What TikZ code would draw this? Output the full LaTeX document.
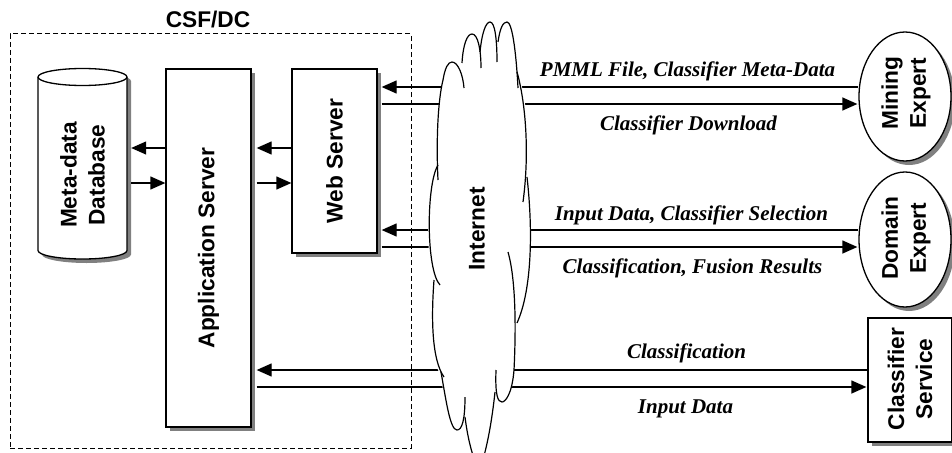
\documentclass[tikz,border=0pt]{standalone}
\usepackage{fontspec}
\setmainfont{Liberation Serif}
\setsansfont{Liberation Sans}
\usetikzlibrary{arrows.meta,shapes.geometric,shadows}
\begin{document}
\begin{tikzpicture}[x=1pt,y=-1pt,
  shd/.style={drop shadow={shadow xshift=4pt,shadow yshift=-4pt,opacity=1,fill=black!50}},
  box/.style={draw,line width=1.3pt,fill=white,shd,inner sep=0pt},
  btxt/.style={font=\fontsize{22.7}{28}\selectfont\sffamily\bfseries,align=center,rotate=90,inner sep=0pt},
  lbl/.style={font=\fontsize{21}{24}\selectfont\bfseries\itshape,anchor=base,inner sep=0pt},
  conn/.style={line width=1.3pt},
  arr/.style={conn,-{Triangle[length=15pt,width=13pt]}},
  lobe/.style={line width=1.2pt}
]
\path[use as bounding box,clip] (0,0) rectangle (952,452);

% CSF/DC dashed frame
\node[draw,dash pattern=on 5pt off 3pt,line width=1pt,minimum width=401,minimum height=414,inner sep=0pt] (csf) at (210.5,241) {};
\node[font=\fontsize{22.7}{28}\selectfont\sffamily\bfseries,anchor=base,inner sep=0pt] (csflbl) at (208,28) {CSF/DC};

% database cylinder
\node[minimum width=89,minimum height=191,inner sep=0pt] (db) at (82.5,163.5) {};
\path[shd,fill=white,draw,line width=1.3pt] (38,77) -- (38,250.5)
  arc[start angle=180,end angle=360,x radius=44.5pt,y radius=8.5pt] -- (127,77)
  arc[start angle=0,end angle=180,x radius=44.5pt,y radius=8.5pt] -- cycle;
\draw[line width=1.3pt] (38,77) arc[start angle=180,end angle=360,x radius=44.5pt,y radius=8.5pt];
\node[btxt] (dbtxt) at (82.5,175) {Meta-data\\Database};

% servers
\node[box,minimum width=85,minimum height=358] (app) at (208.5,248) {};
\node[btxt] (apptxt) at (app) {Application Server};
\node[box,minimum width=85,minimum height=184] (web) at (334.5,161) {};
\node[btxt] (webtxt) at (web) {Web Server};

% external actors
\node[box,ellipse,minimum width=92,minimum height=129] (me) at (905,96.5) {};
\node[btxt] (metxt) at (906,93) {Mining\\Expert};
\node[box,ellipse,minimum width=92,minimum height=135] (de) at (905,239.5) {};
\node[btxt] (detxt) at (906,238) {Domain\\Expert};
\node[box,minimum width=84,minimum height=124] (cs) at (910,380) {};
\node[btxt] (cstxt) at (910,379) {Classifier\\Service};

% shadow-edge coordinates
\coordinate (dbE) at ([xshift=4pt]db.east);
\coordinate (appE) at ([xshift=5pt]app.east);
\coordinate (webE) at ([xshift=4pt]web.east);

% connectors
\draw[arr] (app.west |- 0,148) -- (dbE |- 0,148);
\draw[arr] (dbE |- 0,183) -- (app.west |- 0,183);
\draw[arr] (web.west |- 0,148) -- (appE |- 0,148);
\draw[arr] (appE |- 0,183) -- (web.west |- 0,183);
\draw[arr] (me.west |- 0,87) -- (webE |- 0,87);
\draw[arr] (webE |- 0,104) -- ([xshift=-1pt]me.west |- 0,104);
\draw[arr] (de.west |- 0,230) -- (webE |- 0,230);
\draw[arr] (webE |- 0,247) -- ([xshift=-1pt]de.west |- 0,247);
\draw[arr] (cs.west |- 0,370) -- (appE |- 0,370);
\draw[arr] (appE |- 0,387) -- ([xshift=-1pt]cs.west |- 0,387);

% labels
\node[lbl] (l1) at (687.5,77) {PMML File, Classifier Meta-Data};
\node[lbl] (l2) at (688.5,130) {Classifier Download};
\node[lbl] (l3) at (691.5,220) {Input Data, Classifier Selection};
\node[lbl] (l4) at (692.5,273) {Classification, Fusion Results};
\node[lbl] (l5) at (686.5,358) {Classification};
\node[lbl] (l6) at (685.5,413) {Input Data};

% Internet cloud
\fill[white] plot coordinates {(442,87) (444,75) (447,66) (452,62) (457,64) (461,68) (463,50) (467,38) (472,34) (477,38) (480,50) (482,35) (486,25) (490,22) (494,26) (497,38) (500,30) (503,24) (507,22) (511,26) (514,40) (517,72) (522,87) (525,104) (527,130) (528,150) (527,175) (530,200) (531,230) (530,260) (527,290) (520,315) (516,330) (515,350) (514,370) (512,387) (508,398) (502,402) (497,398) (494,405) (491,425) (486,450) (479,472) (472,450) (468,432) (465,420) (461,429) (457,430) (452,427) (447,412) (443,390) (441,377) (436,365) (433,340) (433,310) (434,290) (431,275) (429,255) (428,230) (429,205) (433,180) (437,165) (437,150) (438,125) (439,104)} -- cycle;
\draw[lobe] (438,180) .. controls (436,140) and (438,100) .. (443,80) .. controls (445,68) and (448,62) .. (452,62) .. controls (458,62) and (463,75) .. (464,88);
\draw[lobe] (462,63) .. controls (463,45) and (467,34) .. (472,34) .. controls (478,34) and (481,50) .. (481,68);
\draw[lobe] (480,52) .. controls (482,32) and (486,22) .. (490,22) .. controls (495,22) and (497,40) .. (497,62);
\draw[lobe] (498,42) .. controls (500,28) and (503,22) .. (507,22) .. controls (512,22) and (516,50) .. (518,88);
\draw[lobe] (517,72) .. controls (525,100) and (530,150) .. (523,202);
\draw[lobe] (527,177) .. controls (533,230) and (532,290) .. (517,323);
\draw[lobe] (508,252) .. controls (516,280) and (516,330) .. (514,370) .. controls (512,395) and (505,402) .. (502,402) .. controls (498,402) and (495,396) .. (496,370);
\draw[lobe] (495,392) .. controls (492,420) and (487,450) .. (479,472);
\draw[lobe] (465,417) .. controls (468,440) and (472,455) .. (479,472);
\draw[lobe] (441,372) .. controls (446,400) and (450,430) .. (457,430) .. controls (462,430) and (465,420) .. (465,397);
\draw[lobe] (434,280) .. controls (431,320) and (432,360) .. (444,377);
\draw[lobe] (438,165) .. controls (426,185) and (426,270) .. (440,285);
\node[btxt] (inet) at (477,229) {Internet};
\end{tikzpicture}
\end{document}
